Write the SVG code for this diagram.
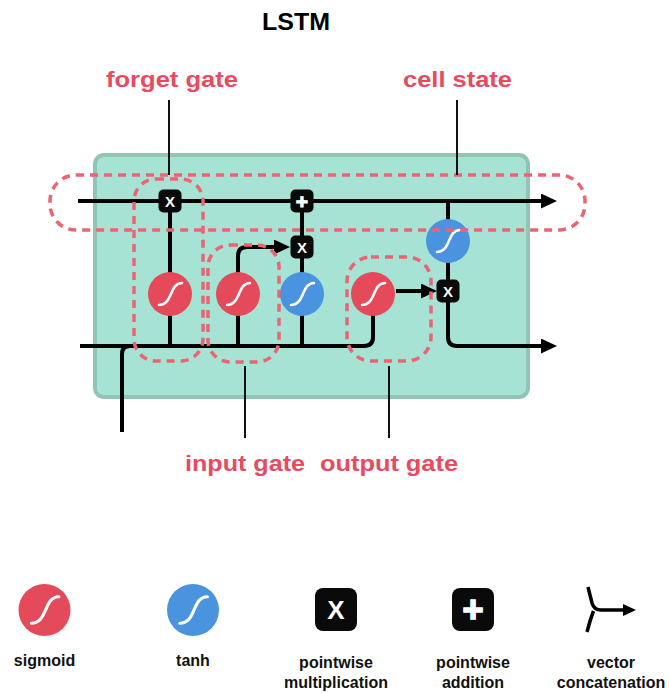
<svg xmlns="http://www.w3.org/2000/svg" width="669" height="693" viewBox="0 0 669 693">
<style>
  text { font-family: "Liberation Sans", Arial, sans-serif; font-weight: bold; }
  .title { font-size: 23px; fill: #000; }
  .ann { font-size: 22px; fill: #e84a5f; }
  .leg { font-size: 16px; fill: #111; }
  .wire { fill: none; stroke: #000; stroke-width: 4; }
  .arr { marker-end: url(#ah); }
  .sig { fill: #e44a5a; }
  .tanh { fill: #4a93df; }
  .curve { fill: none; stroke: #fff; stroke-width: 2.6; stroke-linecap: round; }
  .op { fill: #0a0a0a; }
  .opt { fill: #fff; font-size: 15px; }
  .plus { fill: #fff; font-size: 21px; stroke: #fff; stroke-width: 1; }
  .dash { fill: none; stroke: #ea6471; stroke-width: 3.5; stroke-dasharray: 8 6; }
  .lead { stroke: #111; stroke-width: 2; fill: none; }
</style>
<defs>
  <marker id="ah" markerUnits="userSpaceOnUse" markerWidth="16" markerHeight="15" refX="10" refY="7.5" orient="auto">
    <path d="M0,0 L16,7.5 L0,15 Z" fill="#000"/>
  </marker>
  <marker id="ahs" markerUnits="userSpaceOnUse" markerWidth="13" markerHeight="12" refX="7" refY="6" orient="auto">
    <path d="M0,0 L13,6 L0,12 Z" fill="#000"/>
  </marker>
</defs>

<text class="title" x="296" y="30" text-anchor="middle" textLength="68" lengthAdjust="spacingAndGlyphs">LSTM</text>

<g id="cell">
  <rect x="95" y="155" width="433" height="242" rx="9" fill="#a6e3d4" stroke="#90c5b3" stroke-width="4"/>
</g>

<g id="connectors">
  <path class="wire arr" d="M78,201 H551"/>
  <path class="wire" d="M80,346 H364 Q373,346 373,337 V294"/>
  <path class="wire" d="M122,432 V354 Q122,346 130,346"/>
  <path class="wire" d="M170,201 V346"/>
  <path class="wire arr" d="M238,346 V256 Q238,247 247,247 H284"/>
  <path class="wire" d="M302,201 V346"/>
  <path class="wire arr" d="M396,291 H431"/>
  <path class="wire arr" d="M448,201 V337 Q448,346 457,346 H551"/>
</g>

<g id="forget_sigmoid"><circle class="sig" cx="170" cy="294" r="22"/><path class="curve" transform="translate(170,294)" d="M-11,11 C3,11 -1,-11 12,-11"/></g>
<g id="input_sigmoid"><circle class="sig" cx="238" cy="294" r="22"/><path class="curve" transform="translate(238,294)" d="M-11,11 C3,11 -1,-11 12,-11"/></g>
<g id="candidate_tanh"><circle class="tanh" cx="302" cy="294" r="22"/><path class="curve" transform="translate(302,294)" d="M-11,11 C3,11 -1,-11 12,-11"/></g>
<g id="output_sigmoid"><circle class="sig" cx="373" cy="294" r="22"/><path class="curve" transform="translate(373,294)" d="M-11,11 C3,11 -1,-11 12,-11"/></g>
<g id="cell_tanh"><circle class="tanh" cx="448" cy="241" r="22"/><path class="curve" transform="translate(448,241)" d="M-11,11 C3,11 -1,-11 12,-11"/></g>

<g id="forget_mult"><rect class="op" x="158.5" y="189.5" width="23" height="23" rx="5"/><text class="opt" x="170" y="206.5" text-anchor="middle">X</text></g>
<g id="cell_add"><rect class="op" x="290.5" y="189.5" width="23" height="23" rx="5"/><text class="plus" x="302" y="208.5" text-anchor="middle">+</text></g>
<g id="input_mult"><rect class="op" x="290.5" y="235.5" width="23" height="23" rx="5"/><text class="opt" x="302" y="252.5" text-anchor="middle">X</text></g>
<g id="output_mult"><rect class="op" x="436.5" y="279.5" width="23" height="23" rx="5"/><text class="opt" x="448" y="296.5" text-anchor="middle">X</text></g>

<g id="annotations">
  <rect class="dash" x="50" y="175" width="535" height="55" rx="26"/>
  <rect class="dash" x="134" y="179" width="69" height="182" rx="22"/>
  <rect class="dash" x="208" y="245" width="71" height="117" rx="22"/>
  <rect class="dash" x="347" y="257" width="84" height="104" rx="24"/>
  <path class="lead" d="M169,100 V175"/>
  <path class="lead" d="M457,100 V175"/>
  <path class="lead" d="M245,366 V438"/>
  <path class="lead" d="M389,366 V438"/>
  <text class="ann" x="172" y="87" text-anchor="middle" textLength="132" lengthAdjust="spacingAndGlyphs">forget gate</text>
  <text class="ann" x="457.5" y="87" text-anchor="middle" textLength="109" lengthAdjust="spacingAndGlyphs">cell state</text>
  <text class="ann" x="245" y="471" text-anchor="middle" textLength="120" lengthAdjust="spacingAndGlyphs">input gate</text>
  <text class="ann" x="389" y="471" text-anchor="middle" textLength="138" lengthAdjust="spacingAndGlyphs">output gate</text>
</g>

<g id="legend_sigmoid">
  <circle class="sig" cx="44.5" cy="610" r="26"/>
  <path class="curve" transform="translate(44.5,610) scale(1.2)" d="M-11,11 C3,11 -1,-11 12,-11" stroke-width="2.4"/>
  <text class="leg" x="44.5" y="666" text-anchor="middle">sigmoid</text>
</g>
<g id="legend_tanh">
  <circle class="tanh" cx="193" cy="610" r="26"/>
  <path class="curve" transform="translate(193,610) scale(1.2)" d="M-11,11 C3,11 -1,-11 12,-11" stroke-width="2.4"/>
  <text class="leg" x="193" y="666" text-anchor="middle">tanh</text>
</g>
<g id="legend_mult">
  <rect class="op" x="315" y="588" width="42" height="43" rx="8"/>
  <text x="336" y="619" text-anchor="middle" fill="#fff" font-size="26">X</text>
  <text class="leg" x="336" y="668" text-anchor="middle">pointwise</text>
  <text class="leg" x="336" y="688" text-anchor="middle">multiplication</text>
</g>
<g id="legend_add">
  <rect class="op" x="452" y="588" width="42" height="43" rx="8"/>
  <text x="473" y="622" text-anchor="middle" fill="#fff" font-size="36" stroke="#fff" stroke-width="1.6">+</text>
  <text class="leg" x="473" y="668" text-anchor="middle">pointwise</text>
  <text class="leg" x="473" y="688" text-anchor="middle">addition</text>
</g>
<g id="legend_concat">
  <path d="M588,587 L592,603 Q594,610 601,610 L630,610" fill="none" stroke="#000" stroke-width="3.5" marker-end="url(#ahs)"/>
  <path d="M593.5,611 Q590,620 587,632" fill="none" stroke="#000" stroke-width="3.5"/>
  <text class="leg" x="611" y="668" text-anchor="middle">vector</text>
  <text class="leg" x="611" y="688" text-anchor="middle">concatenation</text>
</g>
</svg>
